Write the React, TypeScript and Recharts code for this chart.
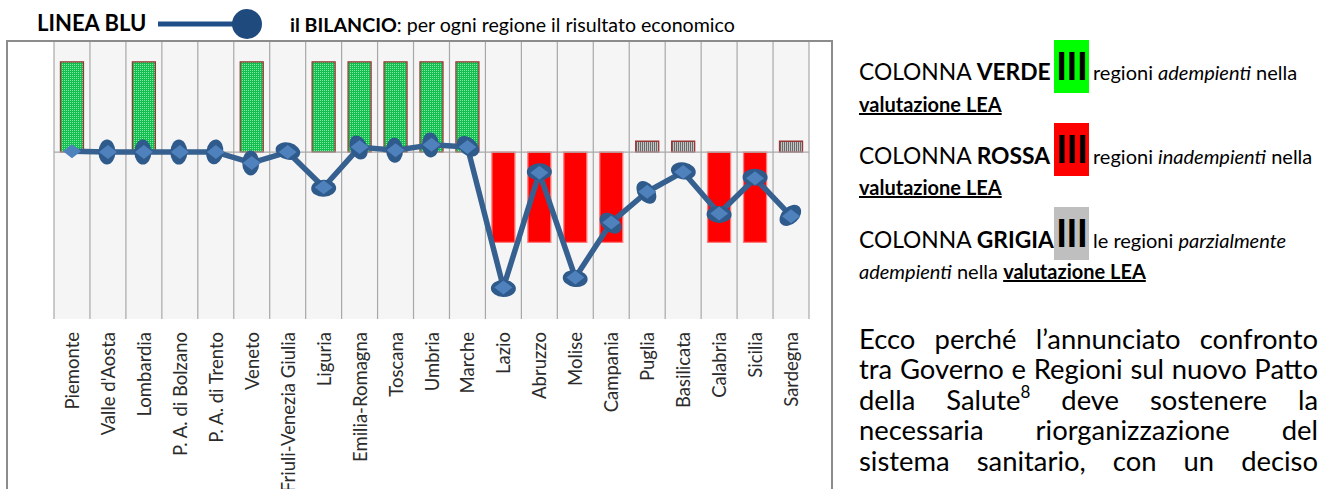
import React from 'react';
import { ComposedChart, Bar, Line, XAxis, YAxis, CartesianGrid, ReferenceLine, Cell } from 'recharts';

const regioni = [
  'Piemonte',
  "Valle d'Aosta",
  'Lombardia',
  'P. A. di Bolzano',
  'P. A. di Trento',
  'Veneto',
  'Friuli-Venezia Giulia',
  'Liguria',
  'Emilia-Romagna',
  'Toscana',
  'Umbria',
  'Marche',
  'Lazio',
  'Abruzzo',
  'Molise',
  'Campania',
  'Puglia',
  'Basilicata',
  'Calabria',
  'Sicilia',
  'Sardegna',
];

// valutazione LEA: A = adempiente, I = inadempiente, P = parzialmente adempiente, null = nessuna colonna
const esitoLea = ['A', null, 'A', null, null, 'A', null, 'A', 'A', 'A', 'A', 'A', 'I', 'I', 'I', 'I', 'P', 'P', 'I', 'I', 'P'];
const colonnaLea = [100, null, 100, null, null, 100, null, 100, 100, 100, 100, 100, -100, -100, -100, -100, 12, 12, -100, -100, 12];

// linea blu: risultato economico (stessa scala)
const bilancio = [1, 0, 0, 0, 0, -12, 0, -39, 5.5, 2, 8, 5.5, -150, -23, -139, -78, -44, -22, -68, -29, -71];

const data = regioni.map((regione, i) => ({
  regione,
  esito: esitoLea[i],
  lea: colonnaLea[i],
  bilancio: bilancio[i],
}));

const FONT = 'Lato, "Open Sans", sans-serif';

function fillFor(esito: string | null) {
  if (esito === 'A') return 'url(#leaVerde)';
  if (esito === 'I') return '#ff0000';
  return 'url(#leaGrigia)';
}

function strokeFor(esito: string | null) {
  if (esito === 'I') return '#ff7a7a';
  return '#9c3535';
}

function RegionTick(props: any) {
  const { x, y, payload } = props;
  return (
    <text
      transform={`translate(${x},${y + 13}) rotate(-90)`}
      textAnchor="end"
      dominantBaseline="central"
      fontSize={18.5}
      fontFamily={FONT}
      fill="#2b2b2b"
    >
      {payload.value}
    </text>
  );
}

function unit(dx: number, dy: number) {
  const l = Math.hypot(dx, dy) || 1;
  return [dx / l, dy / l];
}

function Marker(props: any) {
  const { cx, cy, index, points } = props;
  if (cx == null || cy == null) return null;
  const diamond = `M${cx - 9},${cy} L${cx},${cy - 7} L${cx + 9},${cy} L${cx},${cy + 7} Z`;
  if (index === 0) return <path key={`m${index}`} d={diamond} fill="#4f81bd" />;

  let angle = 90;
  if (points && points.length > 1) {
    const prev = points[index - 1];
    const next = points[index + 1];
    const u1 = prev ? unit(cx - prev.x, cy - prev.y) : unit(next.x - cx, next.y - cy);
    const u2 = next ? unit(next.x - cx, next.y - cy) : u1;
    const turn = Math.acos(Math.max(-1, Math.min(1, u1[0] * u2[0] + u1[1] * u2[1])));
    if (turn < Math.PI / 3) {
      angle = (Math.atan2(u1[1] + u2[1], u1[0] + u2[0]) * 180) / Math.PI + 90;
    } else {
      angle = (Math.atan2(u2[1] - u1[1], u2[0] - u1[0]) * 180) / Math.PI + 90;
    }
  }

  return (
    <g key={`m${index}`}>
      <ellipse cx={cx} cy={cy + 1} rx={12.5} ry={8.5} fill="#2f5a8c" transform={`rotate(${angle} ${cx} ${cy})`} />
      <path d={diamond} fill="#4f81bd" />
    </g>
  );
}

function Txt({ x, base, size, children, style }: { x: number; base: number; size: number; children: React.ReactNode; style?: React.CSSProperties }) {
  return (
    <div
      style={{
        position: 'absolute',
        left: x,
        top: base - 0.887 * size,
        fontSize: size,
        lineHeight: 1,
        whiteSpace: 'nowrap',
        fontFamily: FONT,
        color: '#000',
        ...style,
      }}
    >
      {children}
    </div>
  );
}

function ColorBox({ top, color }: { top: number; color: string }) {
  return (
    <div style={{ position: 'absolute', left: 1054, top, width: 35, height: 53, background: color }}>
      <div
        style={{
          position: 'absolute',
          left: 0,
          width: 35,
          textAlign: 'center',
          top: 40 - 0.887 * 38,
          fontSize: 38,
          lineHeight: 1,
          fontWeight: 700,
          fontFamily: FONT,
          letterSpacing: -1,
        }}
      >
        III
      </div>
    </div>
  );
}

const paragraph: React.ReactNode[] = [
  'Ecco perché l’annunciato confronto',
  'tra Governo e Regioni sul nuovo Patto',
  <>
    della Salute<span style={{ fontSize: 17, position: 'relative', top: -12 }}>8</span> deve sostenere la
  </>,
  'necessaria riorganizzazione del',
  'sistema sanitario, con un deciso',
];

export default function App() {
  const lea = <b style={{ textDecoration: 'underline' }}>valutazione LEA</b>;
  const big = 22.8;
  return (
    <div style={{ position: 'absolute', left: 0, top: 0, width: 1330, height: 489, background: '#fff', overflow: 'hidden' }}>
      {/* titolo */}
      <Txt x={37} base={32} size={22} style={{ fontWeight: 700 }}>
        LINEA BLU
      </Txt>
      <svg style={{ position: 'absolute', left: 150, top: 4 }} width={120} height={40}>
        <line x1={8} y1={20} x2={92} y2={20} stroke="#1f4e89" strokeWidth={5} />
        <circle cx={97} cy={20} r={15} fill="#1f4a7e" />
      </svg>
      <Txt x={290} base={32} size={19.6}>
        <b>il BILANCIO</b>: per ogni regione il risultato economico
      </Txt>

      {/* grafico */}
      <div style={{ position: 'absolute', left: 0, top: 0 }}>
        <ComposedChart
          width={832}
          height={489}
          data={data}
          margin={{ top: 42, right: 23, left: 54, bottom: 0 }}
          barCategoryGap="18%"
        >
          <defs>
            <pattern id="leaVerde" width={2} height={2} patternUnits="userSpaceOnUse">
              <rect width={2} height={2} fill="#12bf4e" />
              <rect width={1} height={1} fill="#86e6a8" />
            </pattern>
            <pattern id="leaGrigia" width={2} height={2} patternUnits="userSpaceOnUse">
              <rect width={2} height={2} fill="#c4c4c4" />
              <rect width={1} height={2} fill="#6a6a6a" />
            </pattern>
          </defs>
          <CartesianGrid
            fill="#f5f5f5"
            horizontal={false}
            stroke="#a8a8a8"
            strokeWidth={1.2}
            verticalCoordinatesGenerator={({ offset }: any) =>
              regioni.map((_, i) => offset.left + (i * offset.width) / regioni.length).concat(offset.left + offset.width)
            }
          />
          <XAxis
            dataKey="regione"
            interval={0}
            height={170}
            axisLine={false}
            tickLine={false}
            tickSize={0}
            tickMargin={0}
            tick={<RegionTick />}
          />
          <YAxis hide domain={[-185, 122]} />
          <ReferenceLine y={0} stroke="#a8a8a8" strokeWidth={1.2} />
          <Bar dataKey="lea" isAnimationActive={false} strokeWidth={1.3}>
            {data.map((d, i) => (
              <Cell key={i} fill={fillFor(d.esito)} stroke={strokeFor(d.esito)} />
            ))}
          </Bar>
          <Line
            dataKey="bilancio"
            type="linear"
            stroke="#36608f"
            strokeWidth={5.5}
            strokeLinejoin="round"
            dot={(p: any) => <Marker key={`dot-${p.index}`} {...p} />}
            activeDot={false}
            isAnimationActive={false}
          />
        </ComposedChart>
      </div>

      {/* cornice */}
      <div
        style={{
          position: 'absolute',
          left: 6,
          top: 40,
          width: 827,
          height: 480,
          border: '2px solid #8c8c8c',
          boxSizing: 'border-box',
          pointerEvents: 'none',
        }}
      />

      {/* legenda */}
      <Txt x={859} base={80} size={big}>
        COLONNA <b>VERDE</b>
      </Txt>
      <ColorBox top={40} color="#00ff00" />
      <Txt x={1093} base={80} size={20}>
        regioni <i>adempienti</i> nella
      </Txt>
      <Txt x={859} base={112} size={20}>
        {lea}
      </Txt>

      <Txt x={859} base={164} size={big}>
        COLONNA <b>ROSSA</b>
      </Txt>
      <ColorBox top={123} color="#ff0000" />
      <Txt x={1093} base={164} size={20}>
        regioni <i>inadempienti</i> nella
      </Txt>
      <Txt x={859} base={195} size={20}>
        {lea}
      </Txt>

      <Txt x={859} base={248} size={big}>
        COLONNA <b>GRIGIA</b>
      </Txt>
      <ColorBox top={207} color="#bfbfbf" />
      <Txt x={1093} base={248} size={20}>
        le regioni <i>parzialmente</i>
      </Txt>
      <Txt x={859} base={279} size={20}>
        <i>adempienti</i> nella {lea}
      </Txt>

      {/* testo */}
      {paragraph.map((line, i) => (
        <div
          key={i}
          style={{
            position: 'absolute',
            left: 859,
            width: 459,
            top: 349 + i * 30.5 - 0.887 * 27.4,
            fontSize: 27.4,
            lineHeight: 1,
            fontFamily: FONT,
            textAlign: 'justify',
            textAlignLast: 'justify',
            whiteSpace: 'nowrap',
          }}
        >
          {line}
        </div>
      ))}
    </div>
  );
}
